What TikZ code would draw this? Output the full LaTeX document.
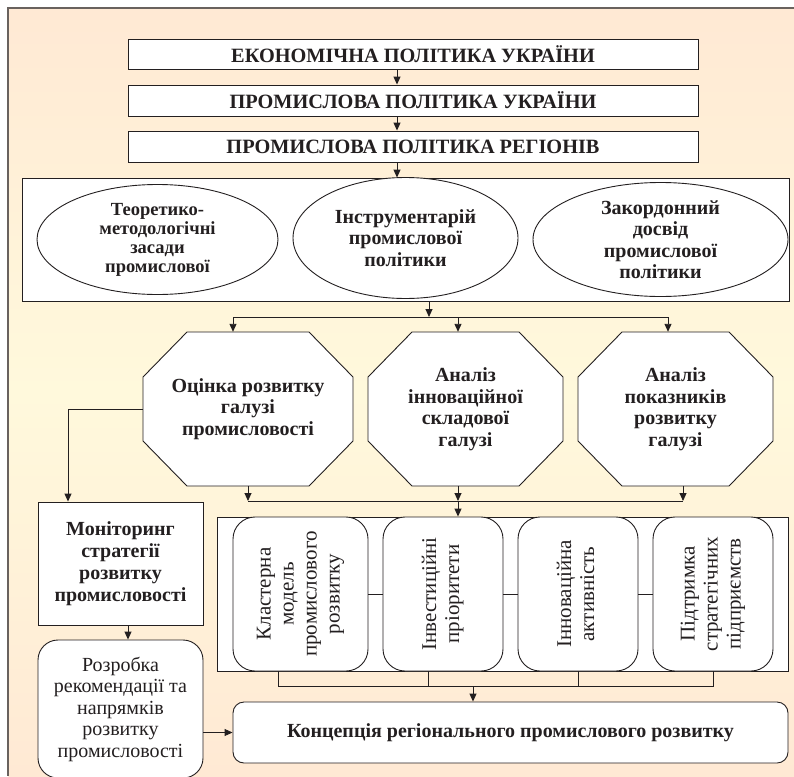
\documentclass[tikz,border=0pt]{standalone}
\usepackage{fontspec}
\setmainfont{Liberation Serif}
\usetikzlibrary{arrows.meta,shapes.geometric}
\definecolor{peach}{RGB}{255,233,212}
\definecolor{paleyel}{RGB}{255,249,220}
\definecolor{ink}{RGB}{35,31,32}
\definecolor{framec}{RGB}{105,98,94}
% octagon outline: centre x, centre y, width, height
\newcommand\octoutline[4]{%
  \draw[draw=ink, line width=0.9pt, fill=white]
    ({#1-#3/2+44},{#2-#4/2}) -- ({#1+#3/2-44},{#2-#4/2}) --
    ({#1+#3/2},{#2-#4/2+45}) -- ({#1+#3/2},{#2+#4/2-45}) --
    ({#1+#3/2-44},{#2+#4/2}) -- ({#1-#3/2+44},{#2+#4/2}) --
    ({#1-#3/2},{#2+#4/2-45}) -- ({#1-#3/2},{#2-#4/2+45}) -- cycle;}
\begin{document}
\begin{tikzpicture}[x=1pt,y=-1pt,
  ln/.style={draw=ink, line width=0.9pt},
  arr/.style={ln, -{Triangle[length=8pt,width=7pt]}},
  box/.style={ln, fill=white, rectangle, inner sep=0pt, align=center},
  bt/.style={font=\fontsize{20}{21.5}\selectfont\bfseries, text=ink},
  nt/.style={font=\fontsize{20}{21.5}\selectfont, text=ink},
  vt/.style={font=\fontsize{21}{23}\selectfont, text=ink},
  topbox/.style={box, minimum width=570pt, font=\fontsize{20.3}{22}\selectfont\bfseries, text=ink},
  ell/.style={ln, fill=white, ellipse, inner sep=0pt, align=center, bt},
  octtext/.style={rectangle, inner sep=0pt, minimum height=154pt, align=center, bt},
  vbox/.style={box, rounded corners=22pt, minimum width=120pt, minimum height=154pt, vt}
]
\useasboundingbox (0,0) rectangle (794,776);
% background
\fill[top color=peach, bottom color=peach, middle color=paleyel] (8,8) rectangle (794,776);
\draw[framec, line width=2pt] (8,776) -- (8,8) -- (794,8);

% top chain
\node[topbox, minimum height=30pt] (e1) at (413,54) {ЕКОНОМІЧНА ПОЛІТИКА УКРАЇНИ};
\node[topbox, minimum height=31pt] (e2) at (413,100.5) {ПРОМИСЛОВА ПОЛІТИКА УКРАЇНИ};
\node[topbox, minimum height=31pt] (e3) at (413,146.5) {ПРОМИСЛОВА ПОЛІТИКА РЕГІОНІВ};
\node[box, minimum width=767pt, minimum height=123pt] (R) at (405.5,239.5) {};
\coordinate (ax) at (397,0);
\draw[arr] (e1.south -| ax) -- (e2.north -| ax);
\draw[arr] (e2.south -| ax) -- (e3.north -| ax);
\draw[arr] (e3.south -| ax) -- (R.north -| ax);

% ellipses
\node[ell, minimum width=241pt, minimum height=110pt, font=\fontsize{18.5}{19}\selectfont\bfseries] (el1) at (157.5,239.5) {Теоретико-\\методологічні\\засади\\промислової};
\node[ell, minimum width=225pt, minimum height=121pt] (el2) at (405.5,238) {Інструментарій\\промислової\\політики};
\node[ell, minimum width=255pt, minimum height=114pt] (el3) at (660.5,239.5) {Закордонний\\досвід\\промислової\\політики};

% octagons
\octoutline{248}{409}{210}{154}
\octoutline{465.5}{409}{195}{154}
\octoutline{675.5}{409}{195}{154}
\node[octtext, minimum width=210pt] (o1) at (248,409) {Оцінка розвитку\\галузі\\промисловості};
\node[octtext, minimum width=195pt] (o2) at (465.5,409) {Аналіз\\інноваційної\\складової\\галузі};
\node[octtext, minimum width=195pt] (o3) at (675.5,409) {Аналіз\\показників\\розвитку\\галузі};

\coordinate (j1) at (429,317);
\coordinate (s1) at (233,317);
\coordinate (s2) at (458,317);
\coordinate (s3) at (668,317);
\draw[arr] (R.south -| j1) -- (j1);
\draw[ln] (s1) -- (s3);
\draw[arr] (s1) -- (o1.north -| s1);
\draw[arr] (s2) -- (o2.north -| s2);
\draw[arr] (s3) -- (o3.north -| s3);

% left column
\node[box, minimum width=165pt, minimum height=123pt, font=\fontsize{20}{22}\selectfont\bfseries, text=ink] (M) at (120.5,563.5) {Моніторинг\\стратегії\\розвитку\\промисловості};
\node[box, rounded corners=20pt, minimum width=165pt, minimum height=138pt, nt] (N) at (120.5,709) {Розробка\\рекомендації та\\напрямків\\розвитку\\промисловості};
\coordinate (l1) at (68,409);
\draw[arr] (o1.west) -- (l1) -- (M.north -| l1);
\coordinate (mx) at (128,0);
\draw[arr] (M.south -| mx) -- (N.north -| mx);

% container with vertical boxes
\node[box, minimum width=571pt, minimum height=154pt] (C) at (502.5,594) {};
\coordinate (t1) at (248,501);
\coordinate (t2) at (458,501);
\coordinate (t3) at (683,501);
\draw[arr] (o1.south -| t1) -- (t1);
\draw[arr] (o2.south -| t2) -- (t2);
\draw[arr] (o3.south -| t3) -- (t3);
\draw[ln] (t1) -- (t3);
\draw[arr] (t2) -- (C.north -| t2);

\node[vbox, minimum width=135pt] (b1) at (300.5,594) {\rotatebox{90}{\begin{tabular}{@{}c@{}}Кластерна\\модель\\промислового\\розвитку\end{tabular}}};
\node[vbox] (b2) at (443,594) {\rotatebox{90}{\begin{tabular}{@{}c@{}}Інвестиційні\\пріоритети\end{tabular}}};
\node[vbox] (b3) at (578,594) {\rotatebox{90}{\begin{tabular}{@{}c@{}}Інноваційна\\активність\end{tabular}}};
\node[vbox] (b4) at (713,594) {\rotatebox{90}{\begin{tabular}{@{}c@{}}Підтримка\\стратегічних\\підприємств\end{tabular}}};
\draw[ln] (b1) -- (b2);
\draw[ln] (b2) -- (b3);
\draw[ln] (b3) -- (b4);

% concept
\node[box, rounded corners=11pt, minimum width=555pt, minimum height=61pt, bt] (K) at (510.5,732.5) {Концепція регіонального промислового розвитку};
\coordinate (u1) at (278,686);
\coordinate (u2) at (428,686);
\coordinate (u3) at (578,686);
\coordinate (u4) at (713,686);
\coordinate (v) at (473,686);
\draw[ln] (b1.south -| u1) -- (u1) -- (u4) -- (b4.south -| u4);
\draw[ln] (b2.south -| u2) -- (u2);
\draw[ln] (b3.south -| u3) -- (u3);
\draw[arr] (v) -- (K.north -| v);
\draw[arr] (K.west -| N.east) -- (K.west);
\end{tikzpicture}
\end{document}
